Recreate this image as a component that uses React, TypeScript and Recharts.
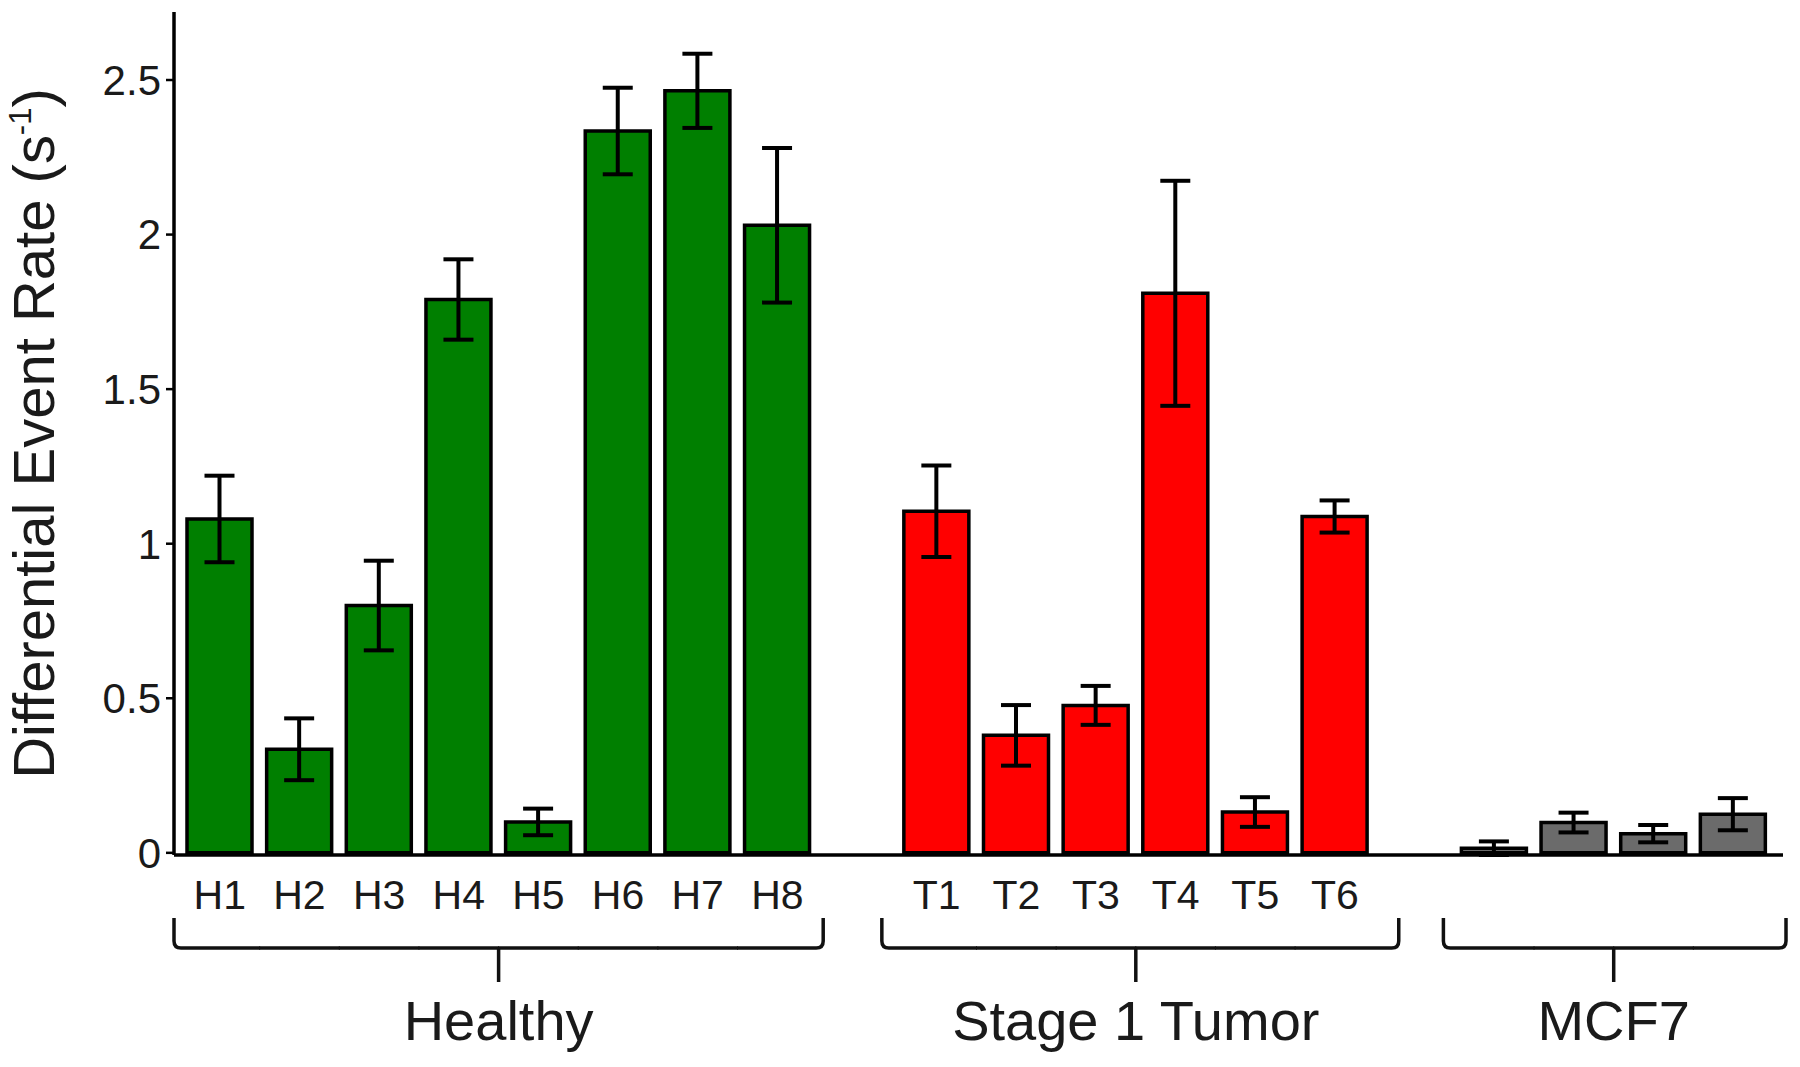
import React from 'react';
import { BarChart, Bar, XAxis, YAxis, Cell, ErrorBar } from 'recharts';

// ---------- data ----------
const groupNames = ['Healthy', 'Stage 1 Tumor', 'MCF7'];

const healthyLabels = ['H1', 'H2', 'H3', 'H4', 'H5', 'H6', 'H7', 'H8'];
const healthyValues = [1.08, 0.335, 0.8, 1.79, 0.1, 2.335, 2.465, 2.03];
const healthyErrors = [0.14, 0.1, 0.145, 0.13, 0.043, 0.14, 0.12, 0.25];

const tumorLabels = ['T1', 'T2', 'T3', 'T4', 'T5', 'T6'];
const tumorValues = [1.105, 0.38, 0.477, 1.81, 0.132, 1.088];
const tumorErrors = [0.148, 0.098, 0.063, 0.364, 0.048, 0.052];

const mcf7Labels = ['', '', '', ''];
const mcf7Values = [0.015, 0.098, 0.062, 0.125];
const mcf7Errors = [0.022, 0.032, 0.028, 0.052];

const yTicks = [0, 0.5, 1, 1.5, 2, 2.5];
const yMax = 2.72;

// ---------- styles ----------
const FONT = '"Liberation Sans", Arial, Helvetica, sans-serif';
const groupColors = ['#007f00', '#ff0000', '#6b6b6b'];
const bracketExt: [number, number][] = [
  [6, 6],
  [15, 24],
  [11, 13],
];
const TEXT = '#1a1a1a';

type Row = {
  key: string;
  label: string;
  group: number;
  pos: number;
  size: number;
  value: number | null;
  err: number | null;
};

const groups = [
  { labels: healthyLabels, values: healthyValues, errors: healthyErrors },
  { labels: tumorLabels, values: tumorValues, errors: tumorErrors },
  { labels: mcf7Labels, values: mcf7Values, errors: mcf7Errors },
];

const rows: Row[] = [];
groups.forEach((g, gi) => {
  if (gi > 0) {
    rows.push({ key: `gap${gi}`, label: '', group: -1, pos: 0, size: 0, value: null, err: null });
  }
  g.values.forEach((v, i) => {
    rows.push({
      key: `g${gi}_${i}`,
      label: g.labels[i],
      group: gi,
      pos: i,
      size: g.values.length,
      value: v,
      err: g.errors[i],
    });
  });
});

const rowByKey: Record<string, Row> = {};
rows.forEach((r) => (rowByKey[r.key] = r));

function XTick(props: any) {
  const { x, y, payload } = props;
  const row = rowByKey[payload?.value];
  if (!row || row.group < 0) return null;
  const half = typeof payload.offset === 'number' && payload.offset > 0 ? payload.offset : 39.8;
  const yLabel = y + 54;
  const yTop = y + 63;
  const yLine = y + 93;
  const yStem = y + 127;
  const yGroup = y + 185;
  const r = 7;
  const [extL, extR] = bracketExt[row.group];
  const first = row.pos === 0;
  const last = row.pos === row.size - 1;
  const xl = first ? x - half - extL : x - half - 0.5;
  const xr = last ? x + half + extR : x + half + 0.5;
  let d = '';
  if (first) d += `M ${xl} ${yTop} L ${xl} ${yLine - r} Q ${xl} ${yLine} ${xl + r} ${yLine} `;
  else d += `M ${xl} ${yLine} `;
  if (last) d += `L ${xr - r} ${yLine} Q ${xr} ${yLine} ${xr} ${yLine - r} L ${xr} ${yTop}`;
  else d += `L ${xr} ${yLine}`;

  let stemX: number | null = null;
  if (row.size % 2 === 0 && row.pos === row.size / 2 - 1) stemX = x + half;
  if (row.size % 2 === 1 && row.pos === (row.size - 1) / 2) stemX = x;

  return (
    <g>
      {row.label ? (
        <text x={x} y={yLabel} textAnchor="middle" fontSize={41} fill={TEXT} fontFamily={FONT}>
          {row.label}
        </text>
      ) : null}
      <path d={d} fill="none" stroke="#111" strokeWidth={3.5} />
      {stemX !== null ? (
        <g>
          <line x1={stemX} x2={stemX} y1={yLine} y2={yStem} stroke="#111" strokeWidth={3.5} />
          <text x={stemX} y={yGroup} textAnchor="middle" fontSize={56} fill={TEXT} fontFamily={FONT}>
            {groupNames[row.group]}
          </text>
        </g>
      ) : null}
    </g>
  );
}

function YLabel(props: any) {
  const vb = props.viewBox || { x: 0, y: 12, width: 174, height: 843 };
  const cx = vb.x + 54;
  const cy = vb.y + vb.height / 2;
  return (
    <text
      x={cx}
      y={cy}
      transform={`rotate(-90 ${cx} ${cy})`}
      textAnchor="middle"
      fontSize={58}
      fill={TEXT}
      fontFamily={FONT}
    >
      Differential Event Rate (s
      <tspan fontSize={31} dy={-23}>-1</tspan>
      <tspan dy={23}>)</tspan>
    </text>
  );
}

export default function App() {
  return (
    <div style={{ width: 1800, height: 1067, margin: '-8px 0 0 -8px', fontFamily: FONT, background: '#fff' }}>
      <BarChart
        width={1800}
        height={1067}
        data={rows}
        margin={{ top: 12, right: 17, bottom: 0, left: 0 }}
        barSize={65}
      >
        <XAxis
          dataKey="key"
          type="category"
          interval={0}
          height={212}
          tickLine={false}
          tickSize={0}
          tickMargin={0}
          padding={{ left: 6, right: 10 }}
          axisLine={{ stroke: '#000', strokeWidth: 3.5 }}
          tick={(p: any) => <XTick {...p} />}
        />
        <YAxis
          type="number"
          domain={[0, yMax]}
          ticks={yTicks}
          width={174}
          tickSize={8}
          tickMargin={5}
          tickLine={{ stroke: '#000', strokeWidth: 2.5 }}
          axisLine={{ stroke: '#000', strokeWidth: 3.5 }}
          tick={{ fontSize: 42, fill: TEXT, fontFamily: FONT }}
          tickFormatter={(v: number) => String(v)}
          label={{ content: (p: any) => <YLabel {...p} /> }}
        />
        <Bar dataKey="value" stroke="#000" strokeWidth={3.5} isAnimationActive={false}>
          {rows.map((r) => (
            <Cell key={r.key} fill={r.group >= 0 ? groupColors[r.group] : 'none'} />
          ))}
          <ErrorBar dataKey="err" width={15} stroke="#000" strokeWidth={4} direction="y" />
        </Bar>
      </BarChart>
    </div>
  );
}
